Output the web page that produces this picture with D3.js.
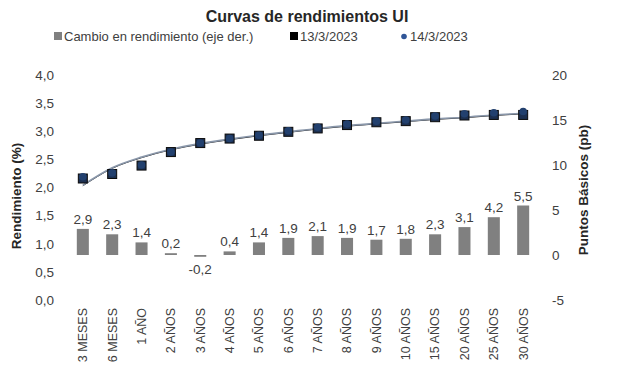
<!doctype html>
<html lang="es">
  <head>
    <meta charset="utf-8">
    <title>Curvas de rendimientos UI</title>
    <script src="https://cdn.jsdelivr.net/npm/d3@7"></script>
    <style>
      body { margin: 0; background: #fff; }
      text { font-family: "Liberation Sans", Arial, sans-serif; fill: #404040; }
    </style>
  </head>
  <body>
    <script>
      const plazos = ["3 MESES", "6 MESES", "1 AÑO", "2 AÑOS", "3 AÑOS", "4 AÑOS", "5 AÑOS", "6 AÑOS",
                      "7 AÑOS", "8 AÑOS", "9 AÑOS", "10 AÑOS", "15 AÑOS", "20 AÑOS", "25 AÑOS", "30 AÑOS"];
      const cambio = [2.9, 2.3, 1.4, 0.2, -0.2, 0.4, 1.4, 1.9, 2.1, 1.9, 1.7, 1.8, 2.3, 3.1, 4.2, 5.5];
      const rend13 = [2.16, 2.24, 2.39, 2.63, 2.79, 2.87, 2.92, 2.99, 3.05, 3.11, 3.16, 3.18, 3.25, 3.28, 3.29, 3.29];
      const rend14 = [2.19, 2.26, 2.40, 2.63, 2.79, 2.87, 2.93, 3.01, 3.07, 3.13, 3.18, 3.20, 3.27, 3.31, 3.33, 3.35];
      // tendencia
      const tendencia = [2.04, 2.35, 2.54, 2.68, 2.78, 2.86, 2.93, 2.99, 3.05, 3.10, 3.14, 3.18, 3.22, 3.25, 3.29, 3.32];
      const ticksIzq = [0, 0.5, 1, 1.5, 2, 2.5, 3, 3.5, 4];
      const ticksDer = [-5, 0, 5, 10, 15, 20];

      const w = 617, h = 386;
      const fmt = (d) => d.toFixed(1).replace(".", ",");

      const svg = d3.select("body").append("svg")
        .attr("width", w)
        .attr("height", h);

      const x = d3.scaleBand()
        .domain(plazos)
        .range([68, 538])
        .paddingInner(0.59)
        .paddingOuter(0.3);
      const yIzq = d3.scaleLinear().domain([0, 4]).range([300, 75]);
      const yDer = d3.scaleLinear().domain([-5, 20]).range([300, 75]);
      const cx = (d) => x(d) + x.bandwidth() / 2;

      // titulo
      svg.append("text")
        .attr("x", 307).attr("y", 22)
        .attr("text-anchor", "middle")
        .style("font-size", "16px").style("font-weight", "bold")
        .style("fill", "#262626")
        .text("Curvas de rendimientos UI");

      // leyenda
      const ley = svg.append("g").style("font-size", "13px");
      ley.append("rect").attr("x", 54).attr("y", 32).attr("width", 8).attr("height", 8).attr("fill", "#808080");
      ley.append("text").attr("x", 64).attr("y", 41).text("Cambio en rendimiento (eje der.)");
      ley.append("rect").attr("x", 290).attr("y", 32).attr("width", 8).attr("height", 8).attr("fill", "#000");
      ley.append("text").attr("x", 300).attr("y", 41).text("13/3/2023");
      ley.append("circle").attr("cx", 404).attr("cy", 36.5).attr("r", 2.8).attr("fill", "#2f5597");
      ley.append("text").attr("x", 410).attr("y", 41).text("14/3/2023");

      // ejes
      const ejeIzq = svg.append("g")
        .attr("transform", "translate(57,0)")
        .call(d3.axisLeft(yIzq).tickValues(ticksIzq).tickFormat(fmt).tickSize(0));
      const ejeDer = svg.append("g")
        .attr("transform", "translate(549,0)")
        .call(d3.axisRight(yDer).tickValues(ticksDer).tickFormat((d) => d).tickSize(0));
      [ejeIzq, ejeDer].forEach((g) => {
        g.select(".domain").remove();
        g.selectAll("text").style("font-size", "13.5px").style("fill", "#404040")
          .style("font-family", '"Liberation Sans", Arial, sans-serif');
      });

      const ejeX = svg.append("g")
        .attr("transform", "translate(0,304)")
        .call(d3.axisBottom(x).tickSize(0));
      ejeX.select(".domain").remove();
      ejeX.selectAll("text")
        .attr("transform", "rotate(-90)")
        .attr("x", -4).attr("y", 0).attr("dy", "0.35em")
        .style("text-anchor", "end")
        .style("font-size", "12.5px").style("fill", "#404040")
        .style("font-family", '"Liberation Sans", Arial, sans-serif');

      // titulos de ejes
      svg.append("text")
        .attr("transform", "translate(21,196) rotate(-90)")
        .attr("text-anchor", "middle")
        .style("font-size", "13.5px").style("font-weight", "bold").style("fill", "#262626")
        .text("Rendimiento (%)");
      svg.append("text")
        .attr("transform", "translate(588,190) rotate(-90)")
        .attr("text-anchor", "middle")
        .style("font-size", "13.5px").style("font-weight", "bold").style("fill", "#262626")
        .text("Puntos Básicos (pb)");

      // barras
      svg.selectAll("rect.bar")
        .data(plazos)
        .enter()
        .append("rect")
        .attr("class", "bar")
        .attr("x", (d) => x(d))
        .attr("y", (d, i) => yDer(Math.max(0, cambio[i])))
        .attr("width", x.bandwidth())
        .attr("height", (d, i) => Math.max(1.5, Math.abs(yDer(cambio[i]) - yDer(0))))
        .attr("fill", "#808080");

      svg.selectAll("text.etq")
        .data(plazos)
        .enter()
        .append("text")
        .attr("class", "etq")
        .attr("x", (d) => cx(d))
        .attr("y", (d, i) => cambio[i] >= 0 ? yDer(cambio[i]) - 5 : yDer(0) + 19)
        .attr("text-anchor", "middle")
        .style("font-size", "13.5px")
        .text((d, i) => fmt(cambio[i]));

      // lineas de tendencia
      const linea = (vals) => d3.line()
        .x((d, i) => cx(plazos[i]))
        .y((d) => yIzq(d))
        .curve(d3.curveMonotoneX)(vals);
      svg.append("path")
        .attr("d", linea(tendencia.map((v, i) => v - 0.01)))
        .attr("fill", "none").attr("stroke", "#1a1a1a").attr("stroke-width", 1);
      svg.append("path")
        .attr("d", linea(tendencia))
        .attr("fill", "none").attr("stroke", "#8a97aa").attr("stroke-width", 1.6);

      // marcadores 13/3
      svg.selectAll("rect.m13")
        .data(plazos)
        .enter()
        .append("rect")
        .attr("class", "m13")
        .attr("x", (d) => cx(d) - 4.5)
        .attr("y", (d, i) => yIzq(rend13[i]) - 4.5)
        .attr("width", 9).attr("height", 9)
        .attr("fill", "#1c2f4f").attr("stroke", "#0a0a0a").attr("stroke-width", 1);

      // marcadores 14/3
      svg.selectAll("circle.m14")
        .data(plazos)
        .enter()
        .append("circle")
        .attr("class", "m14")
        .attr("cx", (d) => cx(d))
        .attr("cy", (d, i) => yIzq(rend14[i]))
        .attr("r", 3.8)
        .attr("fill", "#22406e");
    </script>
  </body>
</html>
